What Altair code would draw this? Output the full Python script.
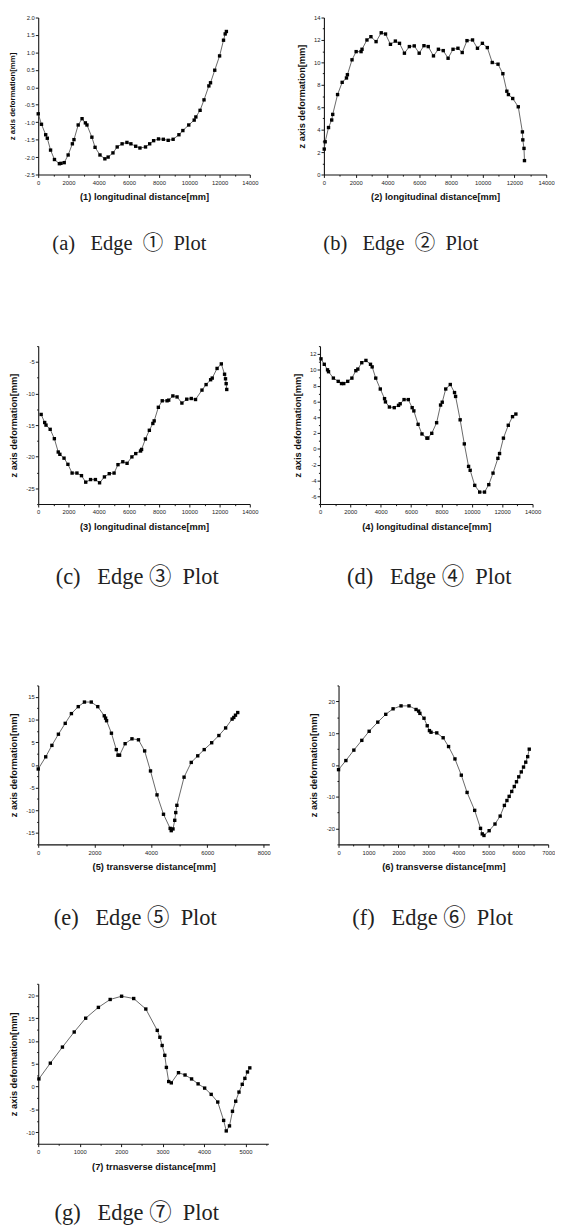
import json
import altair as alt
import pandas as pd

# ---------------- data ----------------
a_x = [0, 215, 495, 600, 817, 1075, 1400, 1505, 1720, 1980, 2260, 2365, 2645, 2900, 3120, 3225,
       3550, 3760, 4085, 4410, 4625, 4945, 5225, 5550, 5870, 6130, 6450, 6730, 7100, 7375, 7635,
       7960, 8280, 8600, 8925, 9310, 9570, 9960, 10320, 10430, 10710, 10970, 11290, 11400, 11680,
       12000, 12260, 12370, 12450]
a_y = [-0.76, -1.06, -1.36, -1.46, -1.80, -2.07, -2.19, -2.18, -2.16, -1.94, -1.62, -1.50, -1.08,
       -0.90, -1.02, -1.08, -1.43, -1.72, -1.94, -2.05, -2.00, -1.88, -1.71, -1.62, -1.58, -1.62,
       -1.69, -1.74, -1.71, -1.62, -1.53, -1.48, -1.49, -1.52, -1.49, -1.36, -1.24, -1.08, -0.94,
       -0.85, -0.66, -0.36, 0.04, 0.13, 0.49, 0.90, 1.35, 1.53, 1.60]

b_x = [20, 80, 290, 490, 555, 860, 1150, 1420, 1480, 1770, 2030, 2340, 2400, 2710, 2960, 3285,
       3610, 3880, 4190, 4500, 4760, 5070, 5380, 5690, 6000, 6300, 6570, 6900, 7210, 7515, 7820,
       8130, 8440, 8710, 9010, 9360, 9670, 9980, 10290, 10600, 10965, 11270, 11520, 11620, 11890,
       12240, 12500, 12525, 12600, 12630]
b_y = [2.27, 2.92, 4.19, 4.86, 5.36, 7.13, 8.22, 8.61, 8.90, 10.23, 10.96, 10.96, 11.17, 12.0,
       12.29, 11.85, 12.64, 12.53, 11.61, 11.9, 11.70, 10.82, 11.41, 11.47, 10.82, 11.49, 11.41,
       10.58, 11.17, 11.05, 10.37, 11.17, 11.26, 10.88, 11.94, 12.0, 11.26, 11.7, 11.32, 9.99,
       9.84, 8.99, 7.43, 7.13, 6.78, 6.04, 3.8, 3.09, 2.33, 1.24]

c_x = [194, 427, 514, 791, 1067, 1324, 1431, 1707, 1964, 2241, 2561, 2862, 3143, 3463, 3783, 4059,
       4380, 4700, 5020, 5277, 5597, 5878, 6198, 6451, 6771, 6839, 7091, 7353, 7585, 7673, 7949,
       8206, 8526, 8633, 8909, 9186, 9506, 9826, 10127, 10408, 10835, 11107, 11407, 11514, 11834,
       12115, 12329, 12392, 12435, 12474]
c_y = [-13.31, -14.59, -15.0, -15.67, -17.15, -19.26, -19.62, -20.23, -21.21, -22.59, -22.59,
       -23.0, -24.03, -23.62, -23.62, -24.13, -23.2, -22.69, -22.59, -21.26, -20.8, -21.05, -20.03,
       -19.51, -19.1, -18.85, -17.2, -15.82, -14.74, -14.33, -12.18, -11.15, -11.15, -11.05,
       -10.38, -10.54, -11.51, -10.9, -10.79, -10.95, -9.46, -8.59, -7.82, -7.56, -6.03, -5.31,
       -6.95, -7.67, -8.44, -9.36]

d_x = [65, 280, 495, 560, 880, 1200, 1415, 1565, 1825, 2100, 2360, 2490, 2750, 3025, 3325, 3435,
       3670, 3970, 4250, 4310, 4570, 4890, 5170, 5280, 5535, 5815, 6070, 6180, 6460, 6715, 7040,
       7100, 7360, 7680, 7940, 8050, 8280, 8580, 8860, 8930, 9230, 9505, 9785, 9890, 10190, 10515,
       10835, 11115, 11395, 11715, 11825, 12080, 12400, 12680, 12900]
d_y = [11.39, 10.7, 10.0, 9.76, 8.95, 8.54, 8.26, 8.26, 8.54, 8.95, 9.89, 10.09, 10.9, 11.19,
       10.7, 10.37, 8.95, 7.57, 6.35, 5.94, 5.29, 5.21, 5.5, 5.7, 6.23, 6.23, 5.21, 4.8, 3.1, 1.88,
       1.35, 1.35, 1.96, 3.3, 5.54, 5.9, 7.57, 8.14, 7.12, 6.63, 3.67, 0.62, -2.23, -2.72, -4.63,
       -5.48, -5.48, -4.54, -3.08, -1.21, -0.6, 1.35, 2.98, 4.07, 4.4]

e_x = [0, 266, 485, 716, 958, 1178, 1420, 1640, 1882, 2113, 2344, 2390, 2425, 2598, 2771, 2829,
       2887, 3083, 3326, 3557, 3776, 3984, 4215, 4445, 4682, 4720, 4782, 4844, 4880, 4920, 5175,
       5430, 5660, 5890, 6155, 6410, 6650, 6880, 6940, 7000, 7080]
e_y = [-0.9, 1.78, 4.3, 6.76, 9.15, 11.3, 12.83, 13.84, 13.84, 12.83, 10.81, 10.3, 9.73, 6.98,
       3.37, 2.14, 2.14, 4.67, 5.75, 5.53, 3.08, -1.33, -6.6, -10.87, -13.98, -14.48, -14.1, -12.2,
       -10.5, -8.9, -2.7, 0.55, 2.0, 3.37, 4.88, 6.47, 8.14, 10.09, 10.45, 10.95, 11.53]

f_x = [0, 245, 511, 777, 1022, 1310, 1576, 1821, 2087, 2353, 2588, 2673, 2716, 2854, 2961, 3035,
       3088, 3280, 3493, 3674, 3887, 4100, 4292, 4546, 4741, 4799, 4856, 5029, 5224, 5397, 5538,
       5623, 5697, 5783, 5868, 5942, 6017, 6102, 6177, 6251, 6315, 6368]
f_y = [-1.49, 1.37, 4.65, 7.72, 10.58, 13.45, 15.91, 17.65, 18.57, 18.57, 17.44, 16.93, 16.21,
       14.68, 12.32, 10.79, 10.28, 10.07, 8.54, 5.77, 1.88, -3.23, -8.66, -14.3, -19.96, -21.7,
       -22.2, -20.7, -18.6, -16.1, -12.75, -11.2, -9.9, -8.35, -6.8, -5.3, -3.75, -2.2, -0.68,
       0.86, 2.6, 4.95]

g_x = [16, 292, 584, 868, 1144, 1451, 1735, 2011, 2303, 2595, 2871, 2934, 2989, 3052, 3091, 3147,
       3210, 3383, 3541, 3699, 3856, 4014, 4172, 4330, 4472, 4535, 4613, 4685, 4763, 4842, 4921,
       4984, 5047, 5103]
g_y = [1.68, 5.13, 8.65, 11.95, 14.97, 17.34, 19.07, 19.78, 19.28, 16.98, 12.31, 10.8, 9.0, 6.85,
       4.2, 1.11, 0.82, 3.05, 2.54, 1.68, 0.6, -0.33, -1.7, -3.38, -7.4, -9.7, -8.6, -5.4, -3.2,
       -1.2, 0.5, 1.8, 3.2, 4.1]

# tick labels (major) and minor ticks
long_x_major = [0, 2000, 4000, 6000, 8000, 10000, 12000, 14000]
long_x_minor = [1000, 3000, 5000, 7000, 9000, 11000, 13000]
e_x_major = [0, 2000, 4000, 6000, 8000]
e_x_minor = [1000, 3000, 5000, 7000]
f_x_major = [0, 1000, 2000, 3000, 4000, 5000, 6000, 7000]
f_x_minor = [500, 1500, 2500, 3500, 4500, 5500, 6500]
g_x_major = [0, 1000, 2000, 3000, 4000, 5000]
g_x_minor = [500, 1500, 2500, 3500, 4500, 5500]

a_y_major = [-2.5, -2.0, -1.5, -1.0, -0.5, 0.0, 0.5, 1.0, 1.5, 2.0]
a_y_minor = []
b_y_major = [0, 2, 4, 6, 8, 10, 12, 14]
b_y_minor = [1, 3, 5, 7, 9, 11, 13]
c_y_major = [-25, -20, -15, -10, -5]
c_y_minor = [-27.5, -22.5, -17.5, -12.5, -7.5, -2.5]
d_y_major = [-6, -4, -2, 0, 2, 4, 6, 8, 10, 12]
d_y_minor = [-7, -5, -3, -1, 1, 3, 5, 7, 9, 11, 13]
e_y_major = [-15, -10, -5, 0, 5, 10, 15]
e_y_minor = [-17.5, -12.5, -7.5, -2.5, 2.5, 7.5, 12.5, 17.5]
f_y_major = [-20, -10, 0, 10, 20]
f_y_minor = [-25, -15, -5, 5, 15, 25]
g_y_major = [-10, -5, 0, 5, 10, 15, 20]
g_y_minor = [-12.5, -7.5, -2.5, 2.5, 7.5, 12.5, 17.5, 22.5]

Y_TITLE = "z axis deformation[mm]"
NB = "\u00a0"
CAP_FONT = "Liberation Serif, Noto Sans CJK KR"


def caption(letter, num, g1, g2, g3):
    return "(" + letter + ")" + NB * g1 + "Edge" + NB * g2 + num + NB * g3 + "Plot"


def make_axis(title, major, minor, fmt, title_size, title_pad, label_pad):
    allv = sorted(set(major + minor))
    test = "indexof(%s, datum.value) >= 0" % json.dumps(major)
    return alt.Axis(
        title=title,
        values=allv,
        format=fmt,
        labelExpr=test + " ? replace(datum.label, '\u2212', '-') : ''",
        tickSize={"condition": {"test": test, "value": 3}, "value": 1.6},
        titleFontSize=title_size,
        titlePadding=title_pad,
        labelPadding=label_pad,
        labelOverlap=False,
        labelFlush=False,
    )


def panel(xs, ys, xdom, xmaj, xmin, ydom, ymaj, ymin, yfmt, xtitle, cap, w, h,
          ytsize, cap_size, cap_dx, cap_offset):
    df = pd.DataFrame({"x": xs, "y": ys})
    base = alt.Chart(df).encode(
        x=alt.X("x:Q", scale=alt.Scale(domain=xdom, nice=False, zero=False),
                axis=make_axis(xtitle, xmaj, xmin, "d", 9.5, 7, 2)),
        y=alt.Y("y:Q", scale=alt.Scale(domain=ydom, nice=False, zero=False),
                axis=make_axis(Y_TITLE, ymaj, ymin, yfmt, ytsize, 7.5, 1)),
        order=alt.Order("x:Q"),
    )
    line = base.mark_line(color="#555555", strokeWidth=0.9)
    pts = base.mark_square(size=12, color="#000000", opacity=1)
    return alt.layer(line, pts).properties(
        width=w, height=h,
        title=alt.TitleParams(cap, orient="bottom", anchor="middle", font=CAP_FONT,
                              fontSize=cap_size, fontWeight="normal", color="#222222",
                              offset=cap_offset, dx=cap_dx),
    )


def spacer(h):
    return alt.Chart(pd.DataFrame({"v": [0]})).mark_point(opacity=0, size=1).encode(
        x=alt.value(0), y=alt.value(0)).properties(width=10, height=h)


pa = panel(a_x, a_y, [0, 14000], long_x_major, long_x_minor, [-2.5, 2.0], a_y_major, a_y_minor,
           ".1f", "(1) longitudinal distance[mm]", caption("a", "\u2460", 3, 2, 2),
           217, 161, 8, 21, -15, 33)
pb = panel(b_x, b_y, [0, 14000], long_x_major, long_x_minor, [0, 14], b_y_major, b_y_minor,
           "d", "(2) longitudinal distance[mm]", caption("b", "\u2461", 3, 2, 2),
           228, 161, 9.5, 21, -35, 33)
pc = panel(c_x, c_y, [0, 14000], long_x_major, long_x_minor, [-27.5, -2.5], c_y_major, c_y_minor,
           "d", "(3) longitudinal distance[mm]", caption("c", "\u2462", 3, 1, 2),
           217, 162, 9.5, 23, -7, 36)
pd_ = panel(d_x, d_y, [0, 14000], long_x_major, long_x_minor, [-7, 13], d_y_major, d_y_minor,
            "d", "(4) longitudinal distance[mm]", caption("d", "\u2463", 3, 1, 2),
            218, 162, 9.5, 23, 3, 36)
pe = panel(e_x, e_y, [0, 8200], e_x_major, e_x_minor, [-17.5, 17.5], e_y_major, e_y_minor,
           "d", "(5) transverse distance[mm]", caption("e", "\u2464", 3, 1, 2),
           237, 163, 9.5, 23, -19, 37)
pf = panel(f_x, f_y, [0, 7000], f_x_major, f_x_minor, [-25, 25], f_y_major, f_y_minor,
           "d", "(6) transverse distance[mm]", caption("f", "\u2465", 3, 1, 2),
           215, 163, 9.5, 23, -11, 37)
pg = panel(g_x, g_y, [0, 5550], g_x_major, g_x_minor, [-12.5, 22.5], g_y_major, g_y_minor,
           "d", "(7) trnasverse distance[mm]", caption("g", "\u2466", 3, 1, 2),
           236, 164, 9.5, 23, -17, 33)

row1 = alt.hconcat(pa, pb, spacing=38)
row2 = alt.hconcat(pc, pd_, spacing=34)
row3 = alt.hconcat(pe, pf, spacing=39)

chart = alt.vconcat(row1, spacer(90), row2, spacer(95), row3, spacer(51), pg, spacing=0).properties(
    padding={"top": -9, "left": 0, "right": 0, "bottom": 0},
    background="white",
).configure_view(stroke=None).configure_axis(
    grid=False,
    domainColor="#111111",
    domainWidth=1.1,
    tickColor="#111111",
    tickWidth=1,
    labelFont="Liberation Sans",
    labelFontSize=6,
    labelColor="#222222",
    titleFont="Liberation Sans",
    titleFontWeight="bold",
    titleColor="#111111",
)

chart.save("out.html", embed_options={"renderer": "svg", "actions": False})
